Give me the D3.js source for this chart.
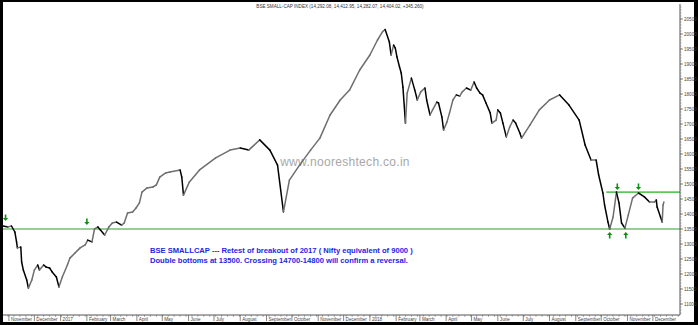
<!DOCTYPE html>
<html>
<head>
<meta charset="utf-8">
<script src="https://cdn.jsdelivr.net/npm/d3@7"></script>
<style>
body { margin: 0; background: #000; }
svg { display: block; }
text { font-family: Arial, "Liberation Sans", sans-serif; }
</style>
</head>
<body>
<svg></svg>
<script>
let width = 698
let height = 325
let svg = d3.select('svg')
    .attr('width', width)
    .attr('height', height)

// closing values
let dates = [
    '2016-10-25', '2016-10-31', '2016-11-04', '2016-11-08', '2016-11-10', '2016-11-11', '2016-11-15', '2016-11-16',
    '2016-11-18', '2016-11-22', '2016-11-24', '2016-11-28', '2016-12-01', '2016-12-05', '2016-12-07', '2016-12-12',
    '2016-12-15', '2016-12-19', '2016-12-22', '2016-12-27', '2016-12-30', '2017-01-03', '2017-01-09', '2017-01-12',
    '2017-01-18', '2017-01-24', '2017-01-30', '2017-02-02', '2017-02-07', '2017-02-10', '2017-02-14', '2017-02-17',
    '2017-02-22', '2017-02-27', '2017-03-03', '2017-03-08', '2017-03-14', '2017-03-17', '2017-03-21', '2017-03-27',
    '2017-03-31', '2017-04-04', '2017-04-07', '2017-04-13', '2017-04-20', '2017-04-24', '2017-04-28', '2017-05-05',
    '2017-05-10', '2017-05-22', '2017-05-24', '2017-05-26', '2017-06-02', '2017-06-14', '2017-07-03', '2017-07-20',
    '2017-08-01', '2017-08-11', '2017-08-24', '2017-09-05', '2017-09-14', '2017-09-21', '2017-09-28', '2017-10-10',
    '2017-10-23', '2017-11-03', '2017-11-15', '2017-11-27', '2017-12-08', '2017-12-20', '2018-01-01', '2018-01-10',
    '2018-01-16', '2018-01-19', '2018-01-24', '2018-01-26', '2018-01-29', '2018-01-31', '2018-02-02', '2018-02-05',
    '2018-02-07', '2018-02-09', '2018-02-12', '2018-02-14', '2018-02-19', '2018-02-23', '2018-02-26', '2018-03-02',
    '2018-03-07', '2018-03-09', '2018-03-13', '2018-03-16', '2018-03-21', '2018-03-23', '2018-03-27', '2018-03-29',
    '2018-04-02', '2018-04-05', '2018-04-09', '2018-04-13', '2018-04-17', '2018-04-20', '2018-04-25', '2018-04-30',
    '2018-05-04', '2018-05-07', '2018-05-11', '2018-05-14', '2018-05-18', '2018-05-23', '2018-05-25', '2018-05-30',
    '2018-06-01', '2018-06-04', '2018-06-07', '2018-06-11', '2018-06-15', '2018-06-19', '2018-06-22', '2018-06-27',
    '2018-06-29', '2018-07-09', '2018-07-20', '2018-08-01', '2018-08-13', '2018-08-24', '2018-09-05', '2018-09-12',
    '2018-09-19', '2018-09-25', '2018-09-28', '2018-10-03', '2018-10-05', '2018-10-09', '2018-10-11', '2018-10-15',
    '2018-10-19', '2018-10-22', '2018-10-25', '2018-10-29', '2018-11-02', '2018-11-07', '2018-11-14', '2018-11-21',
    '2018-11-27', '2018-12-03', '2018-12-05', '2018-12-06', '2018-12-10', '2018-12-12', '2018-12-13', '2018-12-14'
]
let closes = [
    13600, 13570, 13600, 13400, 13070, 12870, 12900, 12400,
    12130, 11800, 11530, 11800, 12130, 12300, 12130, 12300,
    12230, 12200, 12070, 11900, 11570, 11900, 12300, 12530,
    12700, 12870, 12970, 13130, 13070, 13500, 13570, 13470,
    13300, 13570, 13700, 13730, 13630, 13700, 14030, 14070,
    14200, 14370, 14730, 14870, 14900, 14970, 15230, 15370,
    15400, 15470, 15230, 14630, 15070, 15470, 15870, 16130,
    16200, 16130, 16470, 16130, 15630, 14070, 15130, 15630,
    16130, 16530, 17300, 17800, 18130, 18800, 19300, 19800,
    20080, 20150, 19730, 19300, 19630, 19530, 19230, 18900,
    18700, 18230, 17030, 18030, 18530, 18130, 17800, 18070,
    18200, 17800, 17300, 17470, 17730, 17700, 17230, 16800,
    17070, 17370, 17800, 17970, 17930, 18070, 18200, 18130,
    18400, 18200, 18030, 17970, 17700, 17370, 17030, 17130,
    17470, 17370, 17030, 16570, 16900, 17130, 17030, 16700,
    16530, 16970, 17470, 17800, 17970, 17630, 17130, 16300,
    15800, 15800, 15300, 14700, 14300, 13730, 13500, 13900,
    14730, 14370, 13700, 13530, 13970, 14530, 14700, 14570,
    14400, 14400, 14470, 14230, 13900, 13730, 14300, 14400
]

let supportLevel = 13500
let resistanceLevel = 14730
let resistanceStart = '2018-10-07'

let arrowDates = ['2016-10-28', '2017-02-01', '2018-10-11', '2018-10-30', '2018-10-20', '2018-11-14']
let arrowValues = [13770, 13630, 13400, 13400, 14800, 14800]
let arrowDirs = ['down', 'down', 'up', 'up', 'down', 'down']

let yTicks = [11000, 11500, 12000, 12500, 13000, 13500, 14000, 14500, 15000, 15500,
    16000, 16500, 17000, 17500, 18000, 18500, 19000, 19500, 20000, 20500]
let monthTicks = [
    '2016-11-01', '2016-12-01', '2017-01-01', '2017-02-01', '2017-03-01', '2017-04-01', '2017-05-01',
    '2017-06-01', '2017-07-01', '2017-08-01', '2017-09-01', '2017-10-01', '2017-11-01', '2017-12-01',
    '2018-01-01', '2018-02-01', '2018-03-01', '2018-04-01', '2018-05-01', '2018-06-01', '2018-07-01',
    '2018-08-01', '2018-09-01', '2018-10-01', '2018-11-01', '2018-12-01'
]
let monthLabels = [
    'November', 'December', '2017', 'February', 'March', 'April', 'May', 'June', 'July', 'August',
    'September', 'October', 'November', 'December', '2018', 'February', 'March', 'April', 'May',
    'June', 'July', 'August', 'September', 'October', 'November', 'December'
]

let titleText = 'BSE SMALL-CAP INDEX (14,292.08, 14,412.95, 14,282.07, 14,404.02, +345.260)'
let noteLines = [
    'BSE SMALLCAP --- Retest of breakout of 2017 ( Nifty equivalent of 9000 )',
    'Double bottoms at 13500. Crossing 14700-14800 will confirm a reversal.'
]

let parse = d3.timeParse('%Y-%m-%d')
let plotLeft = 3
let plotRight = 680
let plotTop = 4
let plotBottom = 315

let x = d3.scaleTime()
    .domain([parse('2016-10-25'), parse('2019-01-02')])
    .range([plotLeft, plotRight])
let y = d3.scaleLinear()
    .domain([11000, 20500])
    .range([304, 19])

// frame
svg.append('rect').attr('width', width).attr('height', height).attr('fill', '#000')
svg.append('rect')
    .attr('x', 3).attr('y', 2)
    .attr('width', 691).attr('height', 320)
    .attr('fill', '#fff')

// title
svg.append('text')
    .attr('x', 340).attr('y', 8)
    .attr('text-anchor', 'middle')
    .style('font-size', '4.6px')
    .style('fill', '#333')
    .text(titleText)

// watermark
svg.append('text')
    .attr('x', 345).attr('y', 166)
    .attr('text-anchor', 'middle')
    .style('font-size', '12px')
    .style('letter-spacing', '0.3px')
    .style('fill', '#a8a8a8')
    .text('www.nooreshtech.co.in')

// support / resistance lines
svg.append('line')
    .attr('x1', plotLeft).attr('x2', plotRight)
    .attr('y1', y(supportLevel)).attr('y2', y(supportLevel))
    .attr('stroke', '#2ca02c').attr('stroke-width', 1.2)
svg.append('line')
    .attr('x1', x(parse(resistanceStart))).attr('x2', plotRight)
    .attr('y1', y(resistanceLevel)).attr('y2', y(resistanceLevel))
    .attr('stroke', '#5cc85c').attr('stroke-width', 1.6)

// price
let points = dates.map((d, i) => ({ date: parse(d), value: closes[i] }))
let segs = points.slice(1).map((p, i) => ({ a: points[i], b: p }))
svg.append('g').attr('class', 'price')
    .selectAll('line')
    .data(segs).enter()
    .append('line')
    .attr('x1', d => x(d.a.date))
    .attr('y1', d => y(d.a.value))
    .attr('x2', d => x(d.b.date))
    .attr('y2', d => y(d.b.value))
    .attr('stroke', d => d.b.value < d.a.value ? '#000' : '#6e6e6e')
    .attr('stroke-width', 1.5)
    .attr('stroke-linecap', 'round')

// arrows
let arrows = arrowDates.map((d, i) => ({ date: parse(d), value: arrowValues[i], dir: arrowDirs[i] }))
svg.append('g').attr('class', 'arrows')
    .selectAll('path')
    .data(arrows).enter()
    .append('path')
    .attr('transform', d => `translate(${x(d.date)},${y(d.value)})${d.dir === 'up' ? '' : ' rotate(180)'}`)
    .attr('d', 'M0,0 L2.6,3 L0.8,3 L0.8,6.5 L-0.8,6.5 L-0.8,3 L-2.6,3 Z')
    .attr('fill', '#0e8f0e')

// right axis
let yAxis = svg.append('g').attr('class', 'y-axis')
yAxis.append('line')
    .attr('x1', plotRight).attr('x2', plotRight)
    .attr('y1', plotTop).attr('y2', plotBottom)
    .attr('stroke', '#555')
yAxis.selectAll('.minor')
    .data(d3.range(10700, 21000, 100)).enter()
    .append('line')
    .attr('class', 'minor')
    .attr('x1', plotRight).attr('x2', plotRight + 1.5)
    .attr('y1', d => y(d)).attr('y2', d => y(d))
    .attr('stroke', '#777').attr('stroke-width', 0.6)
yAxis.selectAll('.major')
    .data(yTicks).enter()
    .append('line')
    .attr('class', 'major')
    .attr('x1', plotRight).attr('x2', plotRight + 3)
    .attr('y1', d => y(d)).attr('y2', d => y(d))
    .attr('stroke', '#555').attr('stroke-width', 0.7)
yAxis.selectAll('text')
    .data(yTicks).enter()
    .append('text')
    .attr('x', plotRight + 4)
    .attr('y', d => y(d) + 1.6)
    .style('font-size', '4.6px')
    .style('fill', '#444')
    .text(d => d)

// bottom axis
let xAxis = svg.append('g').attr('class', 'x-axis')
xAxis.append('line')
    .attr('x1', plotLeft).attr('x2', plotRight)
    .attr('y1', plotBottom).attr('y2', plotBottom)
    .attr('stroke', '#555')
xAxis.selectAll('.week')
    .data(d3.timeMonday.range(x.domain()[0], x.domain()[1])).enter()
    .append('line')
    .attr('class', 'week')
    .attr('x1', d => x(d)).attr('x2', d => x(d))
    .attr('y1', plotBottom).attr('y2', plotBottom + 1.8)
    .attr('stroke', '#666').attr('stroke-width', 0.6)
xAxis.selectAll('.month')
    .data(monthTicks).enter()
    .append('line')
    .attr('class', 'month')
    .attr('x1', d => x(parse(d))).attr('x2', d => x(parse(d)))
    .attr('y1', plotBottom).attr('y2', plotBottom + 6)
    .attr('stroke', '#555').attr('stroke-width', 0.7)
xAxis.selectAll('text')
    .data(monthTicks).enter()
    .append('text')
    .attr('x', d => x(parse(d)) + 2)
    .attr('y', plotBottom + 5.5)
    .style('font-size', '4.6px')
    .style('fill', '#444')
    .text((d, i) => monthLabels[i])

// annotation
svg.append('g').attr('class', 'note')
    .selectAll('text')
    .data(noteLines).enter()
    .append('text')
    .attr('x', 150)
    .attr('y', (d, i) => 252.5 + i * 10)
    .style('font-size', '7.6px')
    .style('font-weight', 'bold')
    .style('fill', '#2424e6')
    .text(d => d)
</script>
</body>
</html>
